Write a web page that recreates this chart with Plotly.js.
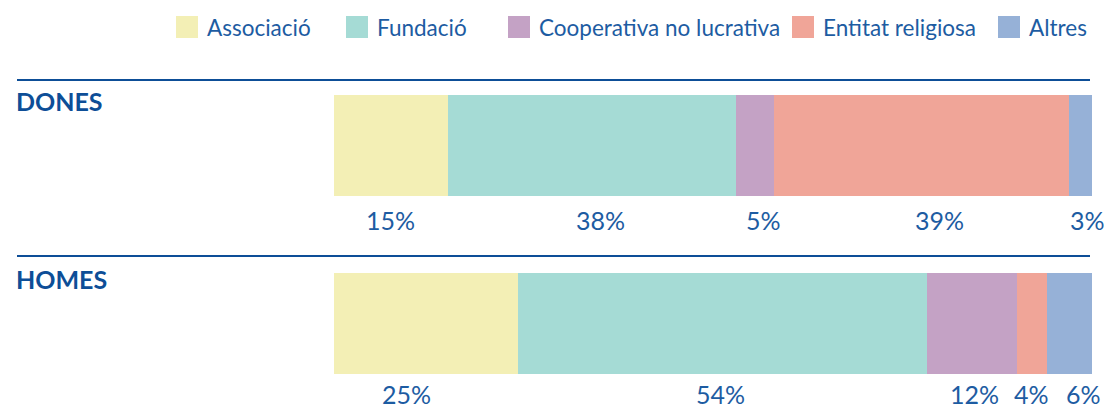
<!DOCTYPE html>
<html>
<head>
<meta charset="utf-8">
<script src="https://cdn.plot.ly/plotly-3.0.1.min.js"></script>
<style>html,body{margin:0;padding:0;background:#fff;}#chart{width:1104px;height:405px;}</style>
</head>
<body>
<div id="chart"></div>
<script>
// ---- data ----
const groups = ['DONES', 'HOMES'];
const categories = ['Associació', 'Fundació', 'Cooperativa no lucrativa', 'Entitat religiosa', 'Altres'];
const donesValues = [15, 38, 5, 39, 3];
const homesValues = [24.3, 53.9, 11.9, 3.9, 6.0];
const donesLabels = ['15%', '38%', '5%', '39%', '3%'];
const homesLabels = ['25%', '54%', '12%', '4%', '6%'];
const colors = ['#f3efb5', '#a5dbd5', '#c4a2c5', '#f0a598', '#96b1d7'];

// ---- layout helpers ----
const W = 1104, H = 405;
const textBlue = '#1d5ca2';
const darkBlue = '#0d4e97';
const font = 'Lato, "Open Sans", sans-serif';

const traces = categories.map((c, k) => ({
  type: 'bar',
  orientation: 'h',
  name: c,
  x: [donesValues[k], homesValues[k]],
  y: groups,
  width: 0.567,
  marker: {color: colors[k], line: {width: 0}},
  hoverinfo: 'name+x',
  showlegend: false
}));

const annotations = [];
const shapes = [];

// group titles
groups.forEach((g, i) => {
  annotations.push({
    xref: 'paper', yref: 'y', x: 14 / W, y: i - 0.25,
    xanchor: 'left', yanchor: 'middle', showarrow: false,
    text: '<b>' + g + '</b>',
    font: {family: font, size: 25, color: darkBlue}
  });
});

// value labels below each segment
const allVals = [donesValues, homesValues];
const allLabels = [donesLabels, homesLabels];
const labelRowOffset = [0.419, 0.396];
const labelShift = [[0, 9, 9, 18, 7], [-20, -2, 3, 0, 14]];
allVals.forEach((vals, i) => {
  let cum = 0;
  vals.forEach((v, k) => {
    const center = cum + v / 2;
    cum += v;
    annotations.push({
      xref: 'x', yref: 'y', x: center, y: i + labelRowOffset[i],
      xanchor: 'center', yanchor: 'middle', showarrow: false,
      xshift: labelShift[i][k],
      text: allLabels[i][k],
      font: {family: font, size: 25, color: textBlue}
    });
  });
});

// separator lines
[80, 256].forEach(py => {
  shapes.push({
    type: 'line', xref: 'paper', yref: 'paper',
    x0: 17 / W, x1: 1090 / W, y0: 1 - py / H, y1: 1 - py / H,
    line: {color: darkBlue, width: 2}
  });
});

// manual legend
const legendX = [176, 346, 508, 792, 998];
categories.forEach((c, k) => {
  const x0 = legendX[k];
  shapes.push({
    type: 'rect', xref: 'paper', yref: 'paper',
    x0: x0 / W, x1: (x0 + 22) / W, y0: 1 - 38 / H, y1: 1 - 16 / H,
    fillcolor: colors[k], line: {width: 0}
  });
  annotations.push({
    xref: 'paper', yref: 'paper', x: (x0 + 29) / W, y: 1 - 28 / H,
    xanchor: 'left', yanchor: 'middle', showarrow: false,
    text: c,
    font: {family: font, size: 22.5, color: textBlue}
  });
});

const layout = {
  width: W, height: H,
  margin: {l: 0, r: 0, t: 0, b: 0, pad: 0},
  paper_bgcolor: '#fff', plot_bgcolor: '#fff',
  barmode: 'stack',
  bargap: 0,
  xaxis: {
    domain: [334 / W, 1092 / W], range: [0, 100], fixedrange: true,
    showgrid: false, zeroline: false, showticklabels: false, showline: false, ticks: ''
  },
  yaxis: {
    type: 'category', categoryorder: 'array', categoryarray: groups,
    range: [1.4579, -0.8174], autorange: false, fixedrange: true,
    showgrid: false, zeroline: false, showticklabels: false, showline: false, ticks: ''
  },
  annotations: annotations,
  shapes: shapes,
  font: {family: font}
};

Plotly.newPlot('chart', traces, layout, {displayModeBar: false, staticPlot: true});
</script>
</body>
</html>
